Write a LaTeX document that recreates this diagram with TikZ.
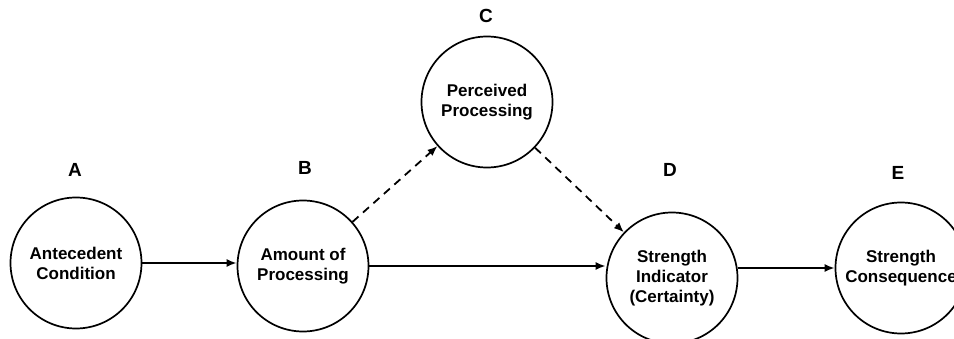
\documentclass[tikz,border=0pt]{standalone}
\usepackage{fontspec}
\setmainfont{Liberation Sans}
\usetikzlibrary{arrows.meta}

\begin{document}
\begin{tikzpicture}[x=1pt,y=-1pt,
  stage/.style={draw,circle,line width=1.7pt,minimum size=131pt,inner sep=0pt,
    align=center,font=\fontsize{17}{20}\selectfont\bfseries},
  tag/.style={font=\fontsize{19}{22}\selectfont\bfseries},
  link/.style={line width=1.8pt,-{Latex[length=10pt,width=8pt]}},
  maybe/.style={link,dash pattern=on 8pt off 6pt}]
\useasboundingbox (0,0) rectangle (954,339);
\clip (0,0) rectangle (954,339);
\node[stage] (A) at (76,263) {Antecedent\\Condition};
\node[stage] (B) at (303,266) {Amount of\\Processing};
\node[stage] (C) at (487,102) {Perceived\\Processing};
\node[stage] (D) at (672,278) {Strength\\Indicator\\(Certainty)};
\node[stage] (E) at (901,268) {Strength\\Consequence};
\node[tag] at (75,170) {A};
\node[tag] at (305,168) {B};
\node[tag] at (486,16) {C};
\node[tag] at (670,170) {D};
\node[tag] at (898,173) {E};
\draw[link] (A.east) -- (A.east -| B.west);
\draw[link] (B.east) -- (B.east -| D.west);
\draw[link] (E.west -| D.east) -- (E.west);
\draw[maybe] (B) -- (C);
\draw[maybe] (C) -- (D);
\end{tikzpicture}
\end{document}
